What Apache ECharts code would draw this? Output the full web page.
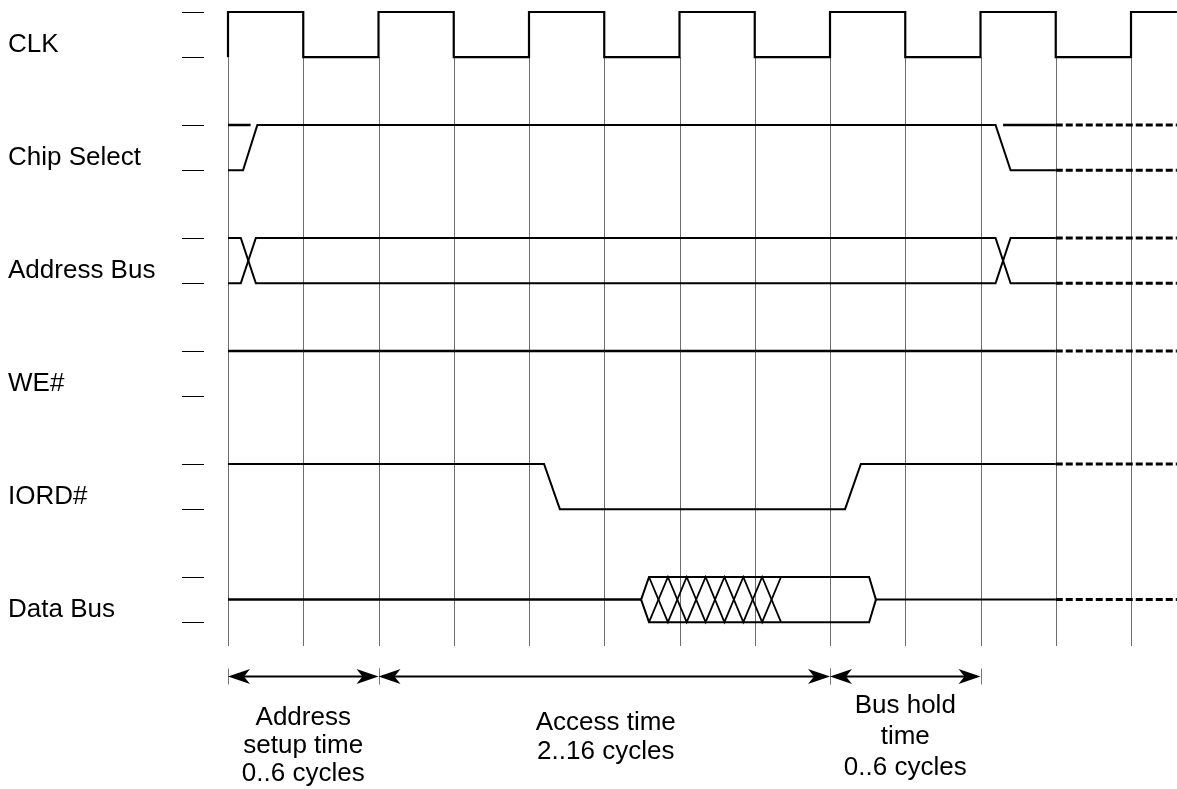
<!DOCTYPE html>
<html>
<head>
<meta charset="utf-8">
<script src="https://cdn.jsdelivr.net/npm/echarts@6/dist/echarts.min.js"></script>
<style>
html,body{margin:0;padding:0;background:#fff;}
#chart{width:1177px;height:789px;}
</style>
</head>
<body>
<div id="chart"></div>
<script>
// ---------- data (x in half clock cycles, levels: 1 = high, 0 = low, 0.5 = float) ----------
const signalNames = ['CLK', 'Chip Select', 'Address Bus', 'WE#', 'IORD#', 'Data Bus'];
const clkHalfCycles = [1, 0, 1, 0, 1, 0, 1, 0, 1, 0, 1, 0, 1];
const csMain = [[0, 0], [0.2, 0], [0.39, 1], [10.2, 1], [10.4, 0], [11, 0]];
const csPrevHigh = [[0, 1], [0.3, 1]];
const csNextHigh = [[10.3, 1], [11, 1]];
const addrA = [[0, 1], [0.17, 1], [0.37, 0], [10.2, 0], [10.4, 1], [11, 1]];
const addrB = [[0, 0], [0.17, 0], [0.37, 1], [10.2, 1], [10.4, 0], [11, 0]];
const weWave = [[0, 1], [11, 1]];
const iordWave = [[0, 1], [4.2, 1], [4.41, 0], [8.2, 0], [8.41, 1], [11, 1]];
const dataIdleA = [[0, 0.5], [5.49, 0.5]];
const dataHexTop = [[5.49, 0.5], [5.595, 1], [8.52, 1], [8.61, 0.5]];
const dataHexBot = [[5.49, 0.5], [5.595, 0], [8.52, 0], [8.61, 0.5]];
const dataIdleB = [[8.61, 0.5], [11, 0.5]];
const dataXA = [[5.595, 1], [5.846, 0], [6.096, 1], [6.347, 0], [6.597, 1], [6.848, 0], [7.098, 1], [7.349, 0]];
const dataXB = [[5.595, 0], [5.846, 1], [6.096, 0], [6.347, 1], [6.597, 0], [6.848, 1], [7.098, 0], [7.349, 1]];
// undefined continuation levels per row (row index, level)
const contLevels = [[1, 1], [1, 0], [2, 1], [2, 0], [3, 1], [4, 1], [5, 0.5]];
const contRange = [11, 12.61];
const clockEdges = [0, 1, 2, 3, 4, 5, 6, 7, 8, 9, 10, 11, 12];
const spans = [[0, 2], [2, 8], [8, 10]];
const spanLabels = ['Address\nsetup time\n0..6 cycles', 'Access time\n2..16 cycles', 'Bus hold\ntime\n0..6 cycles'];

// ---------- layout ----------
const PX_X0 = 228, PX_XSTEP = 75.25, PX_Y0 = 12, PX_YSTEP = 113, W = 1177, H = 789;
const SWING = 0.4;
const FONT = '26px "Liberation Sans", Arial, sans-serif';
function lvl(row, v) { return row + (1 - v) * SWING; }
function toPts(row, wave) { return wave.map(p => [p[0], lvl(row, p[1])]); }

const clkPts = [[0, lvl(0, 0)]];
clkHalfCycles.forEach((v, i) => {
  const end = i === clkHalfCycles.length - 1 ? contRange[1] : i + 1;
  clkPts.push([i, lvl(0, v)], [end, lvl(0, v)]);
});

const solid = [
  {pts: clkPts, w: 2.2},
  {pts: toPts(1, csMain), w: 2}, {pts: toPts(1, csPrevHigh), w: 2.5}, {pts: toPts(1, csNextHigh), w: 2.5},
  {pts: toPts(2, addrA), w: 2}, {pts: toPts(2, addrB), w: 2},
  {pts: toPts(3, weWave), w: 2.5},
  {pts: toPts(4, iordWave), w: 2},
  {pts: toPts(5, dataIdleA), w: 2.5}, {pts: toPts(5, dataHexTop), w: 2}, {pts: toPts(5, dataHexBot), w: 2},
  {pts: toPts(5, dataIdleB), w: 2}, {pts: toPts(5, dataXA), w: 1.8}, {pts: toPts(5, dataXB), w: 1.8}
];

const series = [];
// grid lines
series.push({
  type: 'custom', silent: true, z: 1,
  data: clockEdges.map(x => [x]),
  renderItem(params, api) {
    const x = api.value(0);
    const a = api.coord([x, lvl(0, 0)]), b = api.coord([x, 5 + (646 - PX_Y0 - 5 * PX_YSTEP) / PX_YSTEP]);
    return {type: 'line', shape: {x1: Math.round(a[0]) + 0.5, y1: a[1], x2: Math.round(b[0]) + 0.5, y2: b[1]},
      style: {stroke: '#6e6e6e', lineWidth: 1}};
  }
});
solid.forEach(s => series.push({
  type: 'line', data: s.pts, showSymbol: false, symbol: 'none', silent: true, z: 3, clip: false,
  lineStyle: {color: '#000', width: s.w, cap: 'butt', join: 'miter'}
}));
contLevels.forEach(c => series.push({
  type: 'line', data: [[contRange[0], lvl(c[0], c[1])], [contRange[1], lvl(c[0], c[1])]],
  showSymbol: false, symbol: 'none', silent: true, z: 3, clip: false,
  lineStyle: {color: '#000', width: 3, type: [7, 3], cap: 'butt'}
}));
// left level ticks
const tickItems = [];
signalNames.forEach((n, r) => { tickItems.push([r, 1], [r, 0]); });
series.push({
  type: 'custom', silent: true, z: 3, data: tickItems,
  renderItem(params, api) {
    const y = lvl(api.value(0), api.value(1));
    const a = api.coord([(182 - PX_X0) / PX_XSTEP, y]), b = api.coord([(204 - PX_X0) / PX_XSTEP, y]);
    return {type: 'line', shape: {x1: a[0], y1: Math.round(a[1]) + 0.5, x2: b[0], y2: Math.round(b[1]) + 0.5},
      style: {stroke: '#000', lineWidth: 1}};
  }
});
// signal names
series.push({
  type: 'custom', silent: true, z: 3, data: signalNames.map((n, r) => [r]),
  renderItem(params, api) {
    const r = api.value(0);
    const p = api.coord([(8 - PX_X0) / PX_XSTEP, r + 0.29]);
    return {type: 'text', x: p[0], y: p[1],
      style: {text: signalNames[r], font: FONT, fill: '#000', align: 'left', verticalAlign: 'middle'}};
  }
});
// dimension arrows
const ARROW_Y = (676 - PX_Y0) / PX_YSTEP;
series.push({
  type: 'custom', silent: true, z: 3, data: spans,
  renderItem(params, api) {
    const p1 = api.coord([api.value(0), ARROW_Y]), p2 = api.coord([api.value(1), ARROW_Y]);
    const y = Math.round(p1[1]) + 0.5, L = 22, h = 7.5, n = 6;
    const x1 = p1[0], x2 = p2[0];
    return {type: 'group', children: [
      {type: 'line', shape: {x1: Math.round(x1) + 0.5, y1: y - 8, x2: Math.round(x1) + 0.5, y2: y + 8}, style: {stroke: '#777', lineWidth: 1}},
      {type: 'line', shape: {x1: Math.round(x2) + 0.5, y1: y - 8, x2: Math.round(x2) + 0.5, y2: y + 8}, style: {stroke: '#777', lineWidth: 1}},
      {type: 'line', shape: {x1: x1 + 4, y1: y, x2: x2 - 4, y2: y}, style: {stroke: '#000', lineWidth: 2.2}},
      {type: 'polygon', shape: {points: [[x1, y], [x1 + L, y - h], [x1 + L - n, y], [x1 + L, y + h]]}, style: {fill: '#000'}},
      {type: 'polygon', shape: {points: [[x2, y], [x2 - L, y - h], [x2 - L + n, y], [x2 - L, y + h]]}, style: {fill: '#000'}}
    ]};
  }
});
// span labels
const labelLayout = [{x: 1.0, yPx: 746, lh: 28}, {x: 5.02, yPx: 737, lh: 29}, {x: 9.0, yPx: 737, lh: 31}];
series.push({
  type: 'custom', silent: true, z: 3, data: spanLabels.map((t, i) => [i]),
  renderItem(params, api) {
    const i = api.value(0), L = labelLayout[i];
    const p = api.coord([L.x, (L.yPx - PX_Y0) / PX_YSTEP]);
    return {type: 'text', x: p[0], y: p[1],
      style: {text: spanLabels[i], font: FONT, fill: '#000', align: 'center', verticalAlign: 'middle', lineHeight: L.lh}};
  }
});

const chart = echarts.init(document.getElementById('chart'), null, {renderer: 'canvas'});
chart.setOption({
  animation: false,
  backgroundColor: '#fff',
  grid: {left: 0, right: 0, top: 0, bottom: 0},
  xAxis: {type: 'value', min: -PX_X0 / PX_XSTEP, max: (W - PX_X0) / PX_XSTEP, show: false},
  yAxis: {type: 'value', inverse: true, min: -PX_Y0 / PX_YSTEP, max: (H - PX_Y0) / PX_YSTEP, show: false},
  series: series
});
</script>
</body>
</html>
